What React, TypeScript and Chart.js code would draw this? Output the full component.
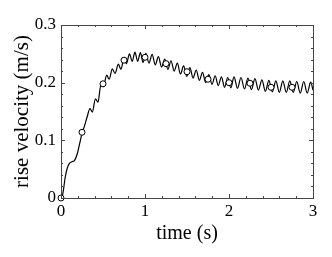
import React, { useEffect, useRef } from "react";
import { Chart, registerables } from "chart.js";

Chart.register(...registerables);

// simulated rise velocity (peaks / troughs)
const lineTime = [
  0, 0.015, 0.03, 0.05, 0.075, 0.1, 0.13, 0.16, 0.19, 0.22,
  0.25, 0.28, 0.31, 0.345, 0.373, 0.41, 0.44, 0.475, 0.505, 0.544,
  0.573, 0.611, 0.643, 0.683, 0.713, 0.75, 0.78, 0.815, 0.848, 0.88,
  0.912, 0.945, 0.977, 1.01, 1.047, 1.085, 1.122, 1.16, 1.197, 1.235,
  1.272, 1.31, 1.347, 1.385, 1.422, 1.46, 1.497, 1.535, 1.572, 1.61,
  1.647, 1.685, 1.722, 1.76, 1.797, 1.835, 1.872, 1.91, 1.947, 1.985,
  2.022, 2.06, 2.101, 2.143, 2.184, 2.226, 2.267, 2.309, 2.35, 2.392,
  2.433, 2.475, 2.516, 2.558, 2.599, 2.641, 2.682, 2.724, 2.765, 2.807,
  2.848, 2.89, 2.931, 2.973, 3.0,
];
const lineVel = [
  0, 0.003, 0.015, 0.036, 0.052, 0.06, 0.063, 0.065, 0.075, 0.093,
  0.112, 0.125, 0.14, 0.155, 0.149, 0.172, 0.166, 0.196, 0.193, 0.213,
  0.206, 0.224, 0.216, 0.232, 0.223, 0.242, 0.233, 0.25, 0.237, 0.253,
  0.237, 0.252, 0.235, 0.251, 0.234, 0.249, 0.231, 0.245, 0.227, 0.241,
  0.223, 0.238, 0.22, 0.234, 0.215, 0.229, 0.211, 0.226, 0.208, 0.222,
  0.204, 0.218, 0.2, 0.214, 0.197, 0.212, 0.195, 0.21, 0.192, 0.209,
  0.191, 0.21, 0.19, 0.209, 0.189, 0.208, 0.188, 0.207, 0.187, 0.205,
  0.185, 0.204, 0.184, 0.203, 0.183, 0.203, 0.183, 0.203, 0.183, 0.202,
  0.182, 0.202, 0.182, 0.201, 0.187,
];

// circle markers
const markerTime = [0, 0.25, 0.5, 0.75, 1.0, 1.25, 1.5, 1.75, 2.0, 2.25, 2.5, 2.75];
const markerVel = [0, 0.114, 0.198, 0.239, 0.244, 0.233, 0.219, 0.206, 0.2, 0.199, 0.192, 0.192];

// ticks
const xMajorTicks = [0, 1, 2, 3];
const xMinorTicks = [0.2, 0.4, 0.6, 0.8, 1.2, 1.4, 1.6, 1.8, 2.2, 2.4, 2.6, 2.8];
const yMajorTicks = [0, 0.1, 0.2, 0.3];
const yMinorTicks = [0.02, 0.04, 0.06, 0.08, 0.12, 0.14, 0.16, 0.18, 0.22, 0.24, 0.26, 0.28];

const FONT = "'Liberation Serif', 'DejaVu Serif', serif";
const AXIS_COLOR = "#444";

const framePlugin = {
  id: "frameTicks",
  afterDatasetsDraw(chart: any) {
    const { ctx, chartArea } = chart;
    const { left, right, top, bottom } = chartArea;
    const xs = chart.scales.x;
    const ys = chart.scales.y;
    ctx.save();
    ctx.strokeStyle = AXIS_COLOR;
    ctx.lineWidth = 1;
    ctx.beginPath();
    const tick = (vals: number[], len: number) => {
      vals.forEach((v) => {
        const px = Math.round(xs.getPixelForValue(v)) + 0.5;
        ctx.moveTo(px, bottom);
        ctx.lineTo(px, bottom - len);
        ctx.moveTo(px, top);
        ctx.lineTo(px, top + len);
      });
    };
    const ytick = (vals: number[], len: number) => {
      vals.forEach((v) => {
        const py = Math.round(ys.getPixelForValue(v)) + 0.5;
        ctx.moveTo(left, py);
        ctx.lineTo(left + len, py);
        ctx.moveTo(right, py);
        ctx.lineTo(right - len, py);
      });
    };
    tick(xMajorTicks, 4);
    tick(xMinorTicks, 2);
    ytick(yMajorTicks, 4);
    ytick(yMinorTicks, 2);
    ctx.stroke();
    ctx.strokeRect(Math.round(left) + 0.5, Math.round(top) + 0.5, Math.round(right - left), Math.round(bottom - top));
    ctx.restore();
  },
};

export default function App() {
  const ref = useRef<HTMLCanvasElement | null>(null);
  useEffect(() => {
    if (!ref.current) return;
    const chart = new Chart(ref.current, {
      type: "line",
      data: {
        datasets: [
          {
            label: "markers",
            data: markerTime.map((t, i) => ({ x: t, y: markerVel[i] })),
            showLine: false,
            pointRadius: 3,
            pointBorderWidth: 1,
            pointBackgroundColor: "#fff",
            pointBorderColor: "#000",
            borderColor: "#000",
            clip: false,
          } as any,
          {
            label: "velocity",
            data: lineTime.map((t, i) => ({ x: t, y: lineVel[i] })),
            borderColor: "#000",
            borderWidth: 1.2,
            pointRadius: 0,
            cubicInterpolationMode: "monotone",
            fill: false,
          },
        ],
      },
      options: {
        animation: false,
        responsive: true,
        maintainAspectRatio: false,
        layout: { padding: { left: 0, right: 19, top: 25, bottom: 0 } },
        plugins: { legend: { display: false }, tooltip: { enabled: false } },
        scales: {
          x: {
            type: "linear",
            min: 0,
            max: 3,
            afterBuildTicks: (s: any) => {
              s.ticks = xMajorTicks.map((v) => ({ value: v }));
            },
            afterFit: (s: any) => {
              s.height = 59;
            },
            grid: { display: false, drawTicks: false },
            border: { display: false },
            ticks: {
              padding: 3,
              color: "#000",
              font: { family: FONT, size: 17 },
              maxRotation: 0,
              callback: (v: any) => String(v),
            },
            title: {
              display: true,
              text: "time (s)",
              color: "#000",
              font: { family: FONT, size: 20 },
              padding: { top: 0, bottom: 11 },
            },
          },
          y: {
            type: "linear",
            min: 0,
            max: 0.3,
            afterBuildTicks: (s: any) => {
              s.ticks = yMajorTicks.map((v) => ({ value: v }));
            },
            afterFit: (s: any) => {
              s.width = 61;
            },
            grid: { display: false, drawTicks: false },
            border: { display: false },
            ticks: {
              padding: 5,
              color: "#000",
              font: { family: FONT, size: 17 },
              callback: (v: any) => String(Math.round(v * 10) / 10),
            },
            title: {
              display: true,
              text: "rise velocity (m/s)",
              color: "#000",
              font: { family: FONT, size: 21 },
              padding: { top: 10, bottom: 0 },
            },
          },
        },
      },
      plugins: [framePlugin],
    });
    return () => chart.destroy();
  }, []);
  return (
    <div style={{ position: "fixed", left: 0, top: 0, width: 332, height: 257, background: "#fff" }}>
      <canvas ref={ref} />
    </div>
  );
}
